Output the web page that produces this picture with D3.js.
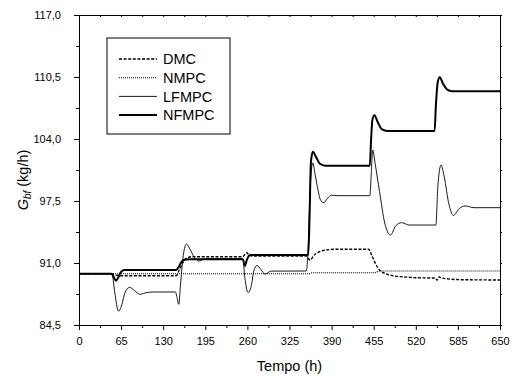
<!DOCTYPE html>
<html>
<head>
<meta charset="utf-8">
<script src="https://cdn.jsdelivr.net/npm/d3@7"></script>
<style>
  body { margin: 0; background: #fff; }
  svg { font-family: "Liberation Sans", Arial, sans-serif; }
  .axis path, .axis line { stroke: #000; }
  .axis text { font-size: 11px; fill: #000; }
</style>
</head>
<body>
<svg id="chart"></svg>
<script>
// tick values
const xTicks = [0, 65, 130, 195, 260, 325, 390, 455, 520, 585, 650];
const yTicks = [84.5, 91.0, 97.5, 104.0, 110.5, 117.0];
const seriesNames = ["DMC", "NMPC", "LFMPC", "NFMPC"];

// [tempo (h), G_bf (kg/h)]
const dmcPoints = [[0,89.88],[50,89.88],[55,89.75],[62,89.67],[150,89.67],[155,90.3],[160,91.0],[166,91.5],[175,91.66],
  [253,91.66],[256,91.9],[259,92.08],[263,91.8],[270,91.73],[352,91.73],[355,91.4],[357,91.3],[362,91.75],[370,92.15],
  [382,92.36],[395,92.44],[447,92.44],[452,91.8],[458,90.9],[465,90.2],[472,89.92],[486,89.64],[500,89.55],[520,89.46],
  [550,89.42],[553,89.2],[556,89.55],[559,89.45],[570,89.33],[590,89.25],[650,89.22]];

const nmpcPoints = [[0,89.88],[355,89.88],[360,89.98],[455,89.98],[465,90.16],[650,90.16]];

const lfmpcPoints = [[0,89.88],[51,89.88],[55,88.0],[61,85.95],[66,86.6],[71,87.9],[78,88.45],[86,88.1],[94,87.72],
  [105,87.9],[115,87.96],[149,87.96],[151,87.5],[154,86.67],[157,89],[161,91.8],[166,92.99],[171,92.5],[178,91.6],
  [185,91.2],[195,91.45],[253,91.45],[256,89.5],[261,87.9],[266,88.6],[270,90.2],[275,90.75],[281,90.3],[287,89.85],
  [297,90.15],[351,90.16],[354,93],[357,99],[361,101.5],[364,100.5],[368,99],[373,97.6],[378,97.32],[384,97.8],
  [390,98.1],[400,98.06],[449,98.06],[451,100],[453.5,102.85],[457,101.5],[464,98.5],[472,95.2],[481,93.94],[489,94.9],
  [498,95.23],[510,94.98],[551,94.98],[554,99],[559,101.27],[564,100],[571,97.2],[578,95.99],[587,96.7],[596,96.98],
  [610,96.8],[650,96.8]];

const nfmpcPoints = [[0,89.88],[50,89.88],[53,89.6],[57,89.15],[60,89.4],[64,90.0],[70,90.27],[150,90.27],[154,90.6],
  [158,91.1],[163,91.35],[170,91.39],[253,91.39],[256,90.7],[259,91.3],[264,91.84],[354,91.84],[356,96],[358,101.5],
  [361,102.67],[366,102.1],[372,101.4],[380,101.2],[449,101.2],[451,104],[453,106],[456,106.5],[461,105.8],[468,105.0],
  [476,104.84],[549,104.84],[551,107.5],[554,110],[557,110.47],[562,109.8],[568,109.2],[576,109.0],[650,109.0]];

const width = 516, height = 376;
const margin = {top: 15, right: 16, bottom: 51, left: 79};
const w = width - margin.left - margin.right;
const h = height - margin.top - margin.bottom;

const svg = d3.select("#chart").attr("width", width).attr("height", height);
const g = svg.append("g").attr("transform", `translate(${margin.left},${margin.top})`);

const x = d3.scaleLinear().domain([0, 650]).range([0, w]);
const y = d3.scaleLinear().domain([84.5, 117]).range([h, 0]);

const fmt = d => d3.format(".1f")(d).replace(".", ",");
const xMinor = d3.range(32.5, 650, 65);
const yMinor = d3.range(87.75, 117, 6.5);

// minor ticks
g.append("g").attr("class", "axis").attr("transform", `translate(0,${h})`)
  .call(d3.axisBottom(x).tickValues(xMinor).tickSize(3).tickFormat(""))
  .call(s => s.select(".domain").remove());
g.append("g").attr("class", "axis")
  .call(d3.axisLeft(y).tickValues(yMinor).tickSize(3).tickFormat(""))
  .call(s => s.select(".domain").remove());

// mirror axes top/right
g.append("g").attr("class", "axis")
  .call(d3.axisTop(x).tickValues(xTicks.concat(xMinor)).tickSizeInner(-2).tickSizeOuter(0).tickFormat(""));
g.append("g").attr("class", "axis").attr("transform", `translate(${w},0)`)
  .call(d3.axisRight(y).tickValues(yTicks.concat(yMinor)).tickSizeInner(2).tickSizeOuter(0).tickFormat(""));

g.append("g").attr("class", "axis").attr("transform", `translate(0,${h})`)
  .call(d3.axisBottom(x).tickValues(xTicks).tickSizeInner(5).tickSizeOuter(0).tickPadding(7));
g.append("g").attr("class", "axis")
  .call(d3.axisLeft(y).tickValues(yTicks).tickFormat(fmt).tickSizeInner(5).tickSizeOuter(0).tickPadding(13));

const line = d3.line()
  .x(d => x(d[0]))
  .y(d => y(d[1]))
  .curve(d3.curveMonotoneX);

const styles = {
  DMC: {data: dmcPoints, width: 1.4, dash: "3,1.6"},
  NMPC: {data: nmpcPoints, width: 1.1, dash: "1,1"},
  LFMPC: {data: lfmpcPoints, width: 0.9, dash: null},
  NFMPC: {data: nfmpcPoints, width: 2, dash: null}
};

seriesNames.forEach(name => {
  const s = styles[name];
  g.append("path")
    .datum(s.data)
    .attr("fill", "none")
    .attr("stroke", "#000")
    .attr("stroke-width", s.width)
    .attr("stroke-dasharray", s.dash)
    .attr("d", line);
});

// legend
const legend = svg.append("g").attr("transform", "translate(107,38)");
legend.append("rect")
  .attr("width", 123).attr("height", 96)
  .attr("fill", "#fff").attr("stroke", "#000").attr("stroke-width", 1);
seriesNames.forEach((name, i) => {
  const s = styles[name];
  const ly = 21 + i * 18.7;
  legend.append("line")
    .attr("x1", 12).attr("x2", 50).attr("y1", ly).attr("y2", ly)
    .attr("stroke", "#000").attr("stroke-width", s.width)
    .attr("stroke-dasharray", s.dash);
  legend.append("text")
    .attr("x", 56).attr("y", ly).attr("dy", "0.36em")
    .attr("font-size", "14.5px").text(name);
});

// axis titles
svg.append("text")
  .attr("x", margin.left + w / 2).attr("y", 371)
  .attr("text-anchor", "middle").attr("font-size", "14.5px")
  .text("Tempo (h)");

const yl = svg.append("text")
  .attr("transform", `translate(28,${margin.top + h / 2 + 10}) rotate(-90)`)
  .attr("text-anchor", "middle").attr("font-size", "14.5px");
yl.append("tspan").attr("font-style", "italic").text("G");
yl.append("tspan").attr("font-style", "italic").attr("font-size", "10px").attr("dy", 3).text("bf");
yl.append("tspan").attr("dy", -3).text(" (kg/h)");
</script>
</body>
</html>
